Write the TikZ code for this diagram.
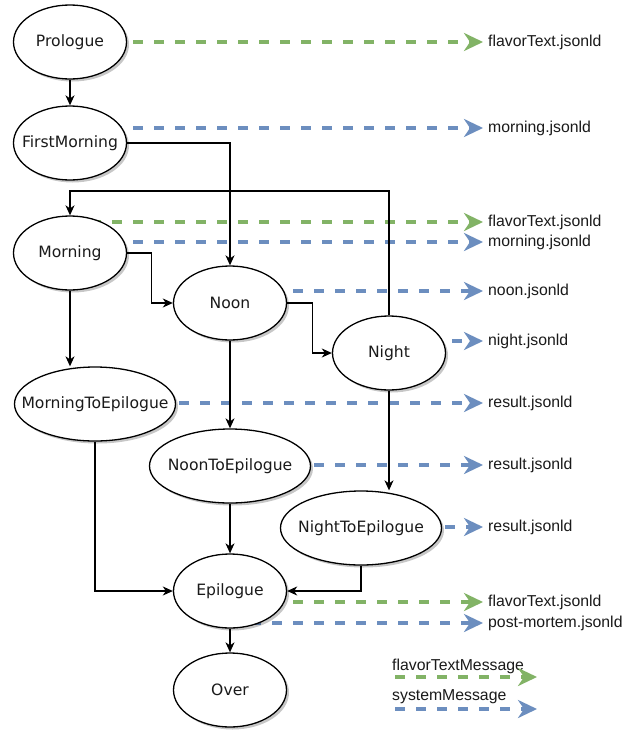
\documentclass[tikz,border=0pt]{standalone}
\usepackage{fontspec}
\setmainfont{Liberation Sans}
\newfontfamily\statefont{DejaVu Sans}
\usetikzlibrary{arrows.meta,shapes.geometric,shadows,backgrounds}
\definecolor{flavorgreen}{HTML}{82B366}
\definecolor{sysblue}{HTML}{6C8EBF}
\definecolor{ink}{HTML}{1A1A1A}
% zero-width label so the ellipse keeps its fixed size
\newcommand\statename[1]{\makebox[0pt][c]{#1}}

\begin{document}
\begin{tikzpicture}[x=1pt,y=-1pt,
  state/.style={ellipse, draw=black, line width=1.3pt, fill=white,
    minimum width=113pt, minimum height=74pt, inner sep=0pt, text=ink,
    font=\statefont\fontsize{15.6}{18}\selectfont,
    drop shadow={shadow xshift=2.5pt, shadow yshift=-2.5pt, fill=black, opacity=0.22}},
  widestate/.style={state, minimum width=161pt},
  flow/.style={draw=black, line width=1.3pt, -{Stealth[length=10pt,width=9pt,inset=3pt]}},
  msg/.style={line width=3.2pt, dash pattern=on 10pt off 11pt,
    -{Stealth[length=19pt,width=18pt,inset=6pt]}},
  gmsg/.style={msg, draw=flavorgreen},
  bmsg/.style={msg, draw=sysblue},
  file/.style={anchor=west, inner xsep=5pt, inner ysep=0pt, text=ink,
    font=\fontsize{15.8}{18}\selectfont, text height=11.5pt, text depth=3.5pt},
  legendtext/.style={anchor=west, inner sep=0pt, text=ink,
    font=\fontsize{15.8}{18}\selectfont}
]
\useasboundingbox (0,0) rectangle (642,731);

% states
\node[state] (prologue) at (70,42) {\statename{Prologue}};
\node[state] (first) at (70,143) {\statename{FirstMorning}};
\node[state] (morning) at (70,253) {\statename{Morning}};
\node[state] (noon) at (230,303) {\statename{Noon}};
\node[state] (night) at (389,353) {\statename{Night}};
\node[widestate] (m2e) at (95,404) {\statename{MorningToEpilogue}};
\node[widestate] (noon2e) at (230,466) {\statename{NoonToEpilogue}};
\node[widestate] (night2e) at (361,528) {\statename{NightToEpilogue}};
\node[state] (epilogue) at (230,591) {\statename{Epilogue}};
\node[state] (over) at (230,690) {\statename{Over}};

% emitted files
\node[file] (f1) at (483,42) {flavorText.jsonld};
\node[file] (f2) at (483,128) {morning.jsonld};
\node[file] (f3) at (483,222) {flavorText.jsonld};
\node[file] (f4) at (483,242) {morning.jsonld};
\node[file] (f5) at (483,291) {noon.jsonld};
\node[file] (f6) at (483,341) {night.jsonld};
\node[file] (f7) at (483,403) {result.jsonld};
\node[file] (f8) at (483,465) {result.jsonld};
\node[file] (f9) at (483,527) {result.jsonld};
\node[file] (f10) at (483,602) {flavorText.jsonld};
\node[file] (f11) at (483,623) {post-mortem.jsonld};

% legend
\node[legendtext] (lgf) at (392,666) {flavorTextMessage};
\node[legendtext] (lgs) at (392,697) {systemMessage};
\coordinate (lgfa) at (395,677);
\coordinate (lgfb) at (537,677);
\coordinate (lgsa) at (395,709);
\coordinate (lgsb) at (537,709);
\draw[gmsg] (lgfa) -- (lgfb);
\draw[bmsg] (lgsa) -- (lgsb);

% message arrows run behind the states
\begin{scope}[on background layer]
  \fill[white] (0,0) rectangle (642,731);
  \draw[gmsg] (prologue.center |- f1.west) -- (f1.west);
  \draw[bmsg] (first.center |- f2.west) -- (f2.west);
  \draw[gmsg] (morning.center |- f3.west) -- (f3.west);
  \draw[bmsg] (morning.center |- f4.west) -- (f4.west);
  \draw[bmsg] (noon.center |- f5.west) -- (f5.west);
  \draw[bmsg] (night.center |- f6.west) -- (f6.west);
  \draw[bmsg] (m2e.center |- f7.west) -- (f7.west);
  \draw[bmsg] (noon2e.center |- f8.west) -- (f8.west);
  \draw[bmsg] (night2e.center |- f9.west) -- (f9.west);
  \draw[gmsg] (epilogue.center |- f10.west) -- (f10.west);
  \draw[bmsg] (epilogue.center |- f11.west) -- (f11.west);
\end{scope}

% transitions
\coordinate (loop) at (389,191);
\draw[flow] (prologue) -- (first);
\draw[flow] (first.east) -| (noon.north);
\draw[flow] (night.north) -- (loop) -| (morning.north);
\draw[flow] (morning.east) -- ++(24,0) |- (noon.west);
\draw[flow] (noon.east) -- ++(25,0) |- (night.west);
\draw[flow] (morning.south) -- (morning.south |- m2e.north);
\draw[flow] (noon) -- (noon2e);
\draw[flow] (night.south) -- (night.south |- night2e.north);
\draw[flow] (m2e.south) |- (epilogue.west);
\draw[flow] (noon2e) -- (epilogue);
\draw[flow] (night2e.south) |- (epilogue.east);
\draw[flow] (epilogue) -- (over);
\end{tikzpicture}
\end{document}
